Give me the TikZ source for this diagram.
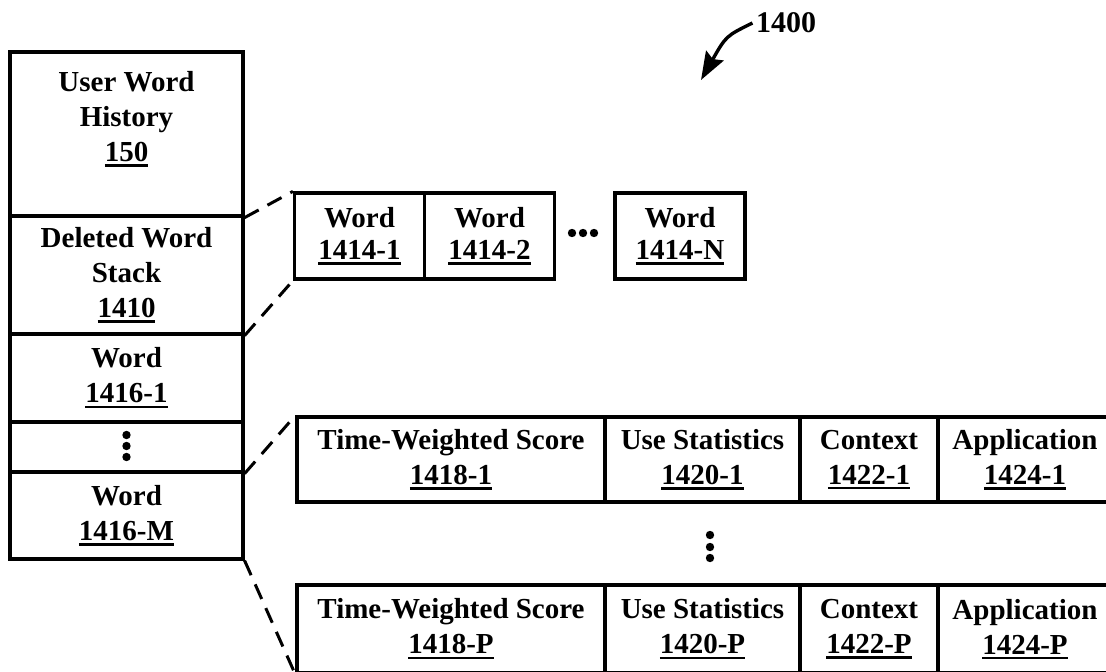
\documentclass[tikz,border=0pt]{standalone}
\usepackage{fontspec}
\setmainfont{Liberation Serif}
\usetikzlibrary{arrows.meta}

\newcommand{\refnum}[1]{\vtop{\hbox{#1}\kern2.5pt\hrule height 2.4pt}}

\begin{document}
\begin{tikzpicture}[x=1pt, y=-1pt,
    cell/.style={draw, line width=3.2pt, inner sep=0pt, align=center, font=\bfseries\fontsize{29}{35}\selectfont},
    short/.style={font=\bfseries\fontsize{29}{32}\selectfont},
    link/.style={line width=3pt, dash pattern=on 16pt off 10pt}]

    \useasboundingbox (0,0) rectangle (1106,672);
    \clip (0,0) rectangle (1106,672);

    \node[cell, minimum width=233, minimum height=164] (hist) at (126.5,134) {User Word\\History\\\refnum{150}\\\mbox{}};
    \node[cell, minimum width=233, minimum height=118] (stack) at (126.5,275) {Deleted Word\\Stack\\\refnum{1410}};
    \node[cell, minimum width=233, minimum height=88] (wordA) at (126.5,378) {Word\\\refnum{1416-1}};
    \node[cell, minimum width=233, minimum height=50] (vdots) at (126.5,447) {};
    \node[cell, minimum width=233, minimum height=87] (wordM) at (126.5,515.5) {Word\\\refnum{1416-M}};

    \node[cell, short, minimum width=130, minimum height=86] (dw1) at (359.5,236) {Word\\\refnum{1414-1}};
    \node[cell, short, minimum width=130, minimum height=86] (dw2) at (489.5,236) {Word\\\refnum{1414-2}};
    \node[cell, short, minimum width=130, minimum height=86] (dwN) at (680,236) {Word\\\refnum{1414-N}};

    \node[cell, minimum width=308, minimum height=85] (ts1) at (451,459.5) {Time-Weighted Score\\\refnum{1418-1}};
    \node[cell, minimum width=195, minimum height=85] (us1) at (702.5,459.5) {Use Statistics\\\refnum{1420-1}};
    \node[cell, minimum width=138, minimum height=85] (ctx1) at (869,459.5) {Context\\\refnum{1422-1}};
    \node[cell, minimum width=174, minimum height=85] (app1) at (1025,459.5) {Application\\\refnum{1424-1}};

    \node[cell, minimum width=308, minimum height=88] (tsP) at (451,629) {Time-Weighted Score\\\refnum{1418-P}};
    \node[cell, minimum width=195, minimum height=88] (usP) at (702.5,629) {Use Statistics\\\refnum{1420-P}};
    \node[cell, minimum width=138, minimum height=88] (ctxP) at (869,629) {Context\\\refnum{1422-P}};
    \node[cell, minimum width=174, minimum height=88] (appP) at (1025,629) {Application\\\refnum{1424-P}};

    \foreach \y in {435,446,457} \fill (126.5,\y) circle (4.2);
    \foreach \x in {572,583,594} \fill (\x,233) circle (4.2);
    \foreach \y in {535,547,558} \fill (710,\y) circle (4.2);

    \draw[link] (hist.south east) -- (dw1.north west);
    \draw[link] (stack.south east) -- (dw1.south west);
    \draw[link] (vdots.south east) -- (ts1.north west);
    \draw[link] (wordM.south east) -- (tsP.south west);

    \node[font=\bfseries\fontsize{30}{35}\selectfont] (fig) at (786,23) {1400};
    \draw[line width=3.4pt, -{Stealth[length=28pt, width=20pt, inset=4pt]}] (fig.west) .. controls (726,36) .. (701,80);

\end{tikzpicture}
\end{document}
